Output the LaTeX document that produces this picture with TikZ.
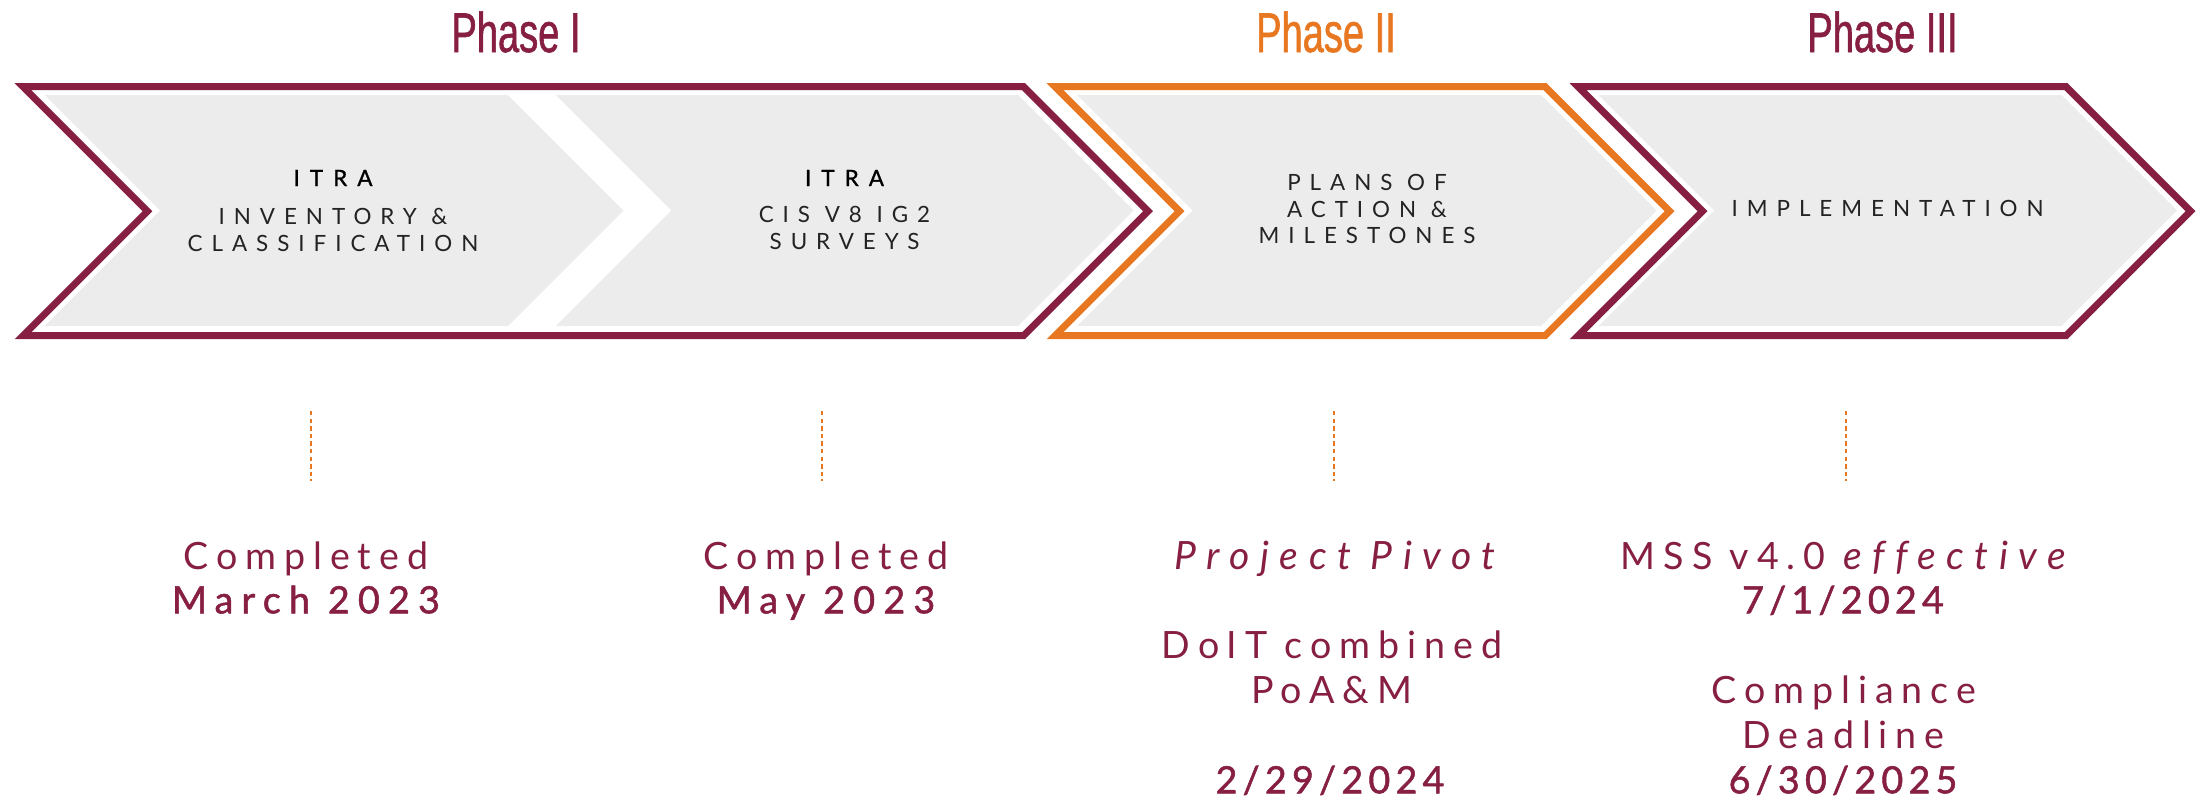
\documentclass[tikz,border=0pt]{standalone}
\usepackage{fontspec}
\setmainfont{Lato}
\newfontfamily\phasefont[FakeStretch=0.68, FakeBold=1]{Liberation Sans}
\newfontfamily\chevfont[LetterSpace=40]{Lato}
\newfontfamily\chevbfont[LetterSpace=45, FakeBold=1.2]{Lato}
\newfontfamily\datefont[LetterSpace=21]{Lato}
\newfontfamily\dateifont[LetterSpace=27, Ligatures=NoCommon]{Lato Italic}
\newfontfamily\datebfont[LetterSpace=22, FakeBold=1.4]{Lato}
\newfontfamily\datenfont[LetterSpace=14, FakeBold=1.4]{Lato}
\definecolor{vtmaroon}{HTML}{861F41}
\definecolor{vtorange}{HTML}{E87722}
\definecolor{chevgray}{HTML}{ECECEC}
\definecolor{txtgray}{HTML}{232323}
\tikzset{
  outline/.style={line width=3.5pt, line join=miter},
  grayfill/.style={fill=chevgray},
  chevtxt/.style={font=\chevfont\fontsize{11.2}{13}\selectfont, text=txtgray, inner sep=0pt, anchor=base},
  chevbtxt/.style={font=\chevbfont\fontsize{11.2}{13}\selectfont, text=black, inner sep=0pt, anchor=base},
  datetxt/.style={font=\datefont\fontsize{18.8}{22.5}\selectfont, text=vtmaroon, inner sep=0pt, anchor=base},
  dateitxt/.style={font=\dateifont\fontsize{19.5}{22.5}\selectfont, text=vtmaroon, inner sep=0pt, anchor=base},
  datebtxt/.style={font=\datebfont\fontsize{18.8}{22.5}\selectfont, text=vtmaroon, inner sep=0pt, anchor=base},
  datentxt/.style={font=\datenfont\fontsize{18.8}{22.5}\selectfont, text=vtmaroon, inner sep=0pt, anchor=base},
  phasetxt/.style={font=\phasefont\fontsize{28}{30}\selectfont, inner sep=0pt, anchor=base},
  dashline/.style={vtorange, line width=0.7pt, dash pattern=on 2.2pt off 1.6pt}
}
\begin{document}
\begin{tikzpicture}[x=0.5pt,y=-0.5pt]
\useasboundingbox (0,0) rectangle (2206,799);
% gray chevrons
\fill[grayfill] (44.6,95) -- (508,95) -- (623.5,210.5) -- (508,326) -- (44.6,326) -- (160.1,210.5) -- cycle;
\fill[grayfill] (555.8,95) -- (1018,95) -- (1133.5,210.5) -- (1018,326) -- (555.8,326) -- (671.3,210.5) -- cycle;
\fill[grayfill] (1077,95) -- (1541,95) -- (1656.5,210.5) -- (1541,326) -- (1077,326) -- (1192.5,210.5) -- cycle;
\fill[grayfill] (1598.5,95) -- (2061.5,95) -- (2177,210.5) -- (2061.5,326) -- (1598.5,326) -- (1714,210.5) -- cycle;
% outlines
\draw[outline, vtmaroon] (23,86.7) -- (1023.5,86.7) -- (1148,211.2) -- (1023.5,335.7) -- (23,335.7) -- (147.5,211.2) -- cycle;
\draw[outline, vtorange] (1055,86.7) -- (1545,86.7) -- (1669.5,211.2) -- (1545,335.7) -- (1055,335.7) -- (1179.5,211.2) -- cycle;
\draw[outline, vtmaroon] (1578,86.7) -- (2066,86.7) -- (2190.5,211.2) -- (2066,335.7) -- (1578,335.7) -- (1702.5,211.2) -- cycle;
% phase labels
\node[phasetxt, text=vtmaroon] (ph1) at (516,52) {Phase I};
\node[phasetxt, text=vtorange] (ph2) at (1326,52) {Phase II};
\node[phasetxt, text=vtmaroon] (ph3) at (1882.5,52) {Phase III};
% chevron texts
\node[chevbtxt] (c1a) at (333,186) {ITRA};
\node[chevtxt] (c1b) at (333,224) {INVENTORY \&};
\node[chevtxt] (c1c) at (333,251.5) {CLASSIFICATION};
\node[chevbtxt] (c2a) at (844.5,186) {ITRA};
\node[chevtxt] (c2b) at (844.5,222.7) {CIS V8 IG2};
\node[chevtxt] (c2c) at (844.5,249.3) {SURVEYS};
\node[chevtxt] (c3a) at (1367,190.7) {PLANS OF};
\node[chevtxt] (c3b) at (1367,217.3) {ACTION \&};
\node[chevtxt] (c3c) at (1367,243.3) {MILESTONES};
\node[chevtxt] (c4a) at (1887.6,216.7) {IMPLEMENTATION};
% dashed ticks
\coordinate (d1t) at (311,411); \coordinate (d1b) at (311,481);
\coordinate (d2t) at (822,411); \coordinate (d2b) at (822,481);
\coordinate (d3t) at (1334,411); \coordinate (d3b) at (1334,481);
\coordinate (d4t) at (1846,411); \coordinate (d4b) at (1846,481);
\draw[dashline] (d1t) -- (d1b);
\draw[dashline] (d2t) -- (d2b);
\draw[dashline] (d3t) -- (d3b);
\draw[dashline] (d4t) -- (d4b);
% bottom texts
\node[datetxt] (t1a) at (306,569.3) {Completed};
\node[datebtxt] (t1b) at (306,613.3) {March 2023};
\node[datetxt] (t2a) at (826,569.3) {Completed};
\node[datebtxt] (t2b) at (826,613.3) {May 2023};
\node[dateitxt] (t3a) at (1335,569.3) {Project Pivot};
\node[datetxt] (t3b) at (1332,658.3) {DoIT combined};
\node[datetxt] (t3c) at (1332,703.3) {PoA\&M};
\node[datentxt] (t3d) at (1330,793.3) {2/29/2024};
\node[datetxt] (t4a) at (1843.5,569.3) {MSS v4.0 {\dateifont\fontsize{19.5}{22.5}\selectfont effective}};
\node[datentxt] (t4b) at (1843,613.3) {7/1/2024};
\node[datetxt] (t4c) at (1844,703.3) {Compliance};
\node[datetxt] (t4d) at (1843.5,748.3) {Deadline};
\node[datentxt] (t4e) at (1843,793.3) {6/30/2025};
\end{tikzpicture}
\end{document}
